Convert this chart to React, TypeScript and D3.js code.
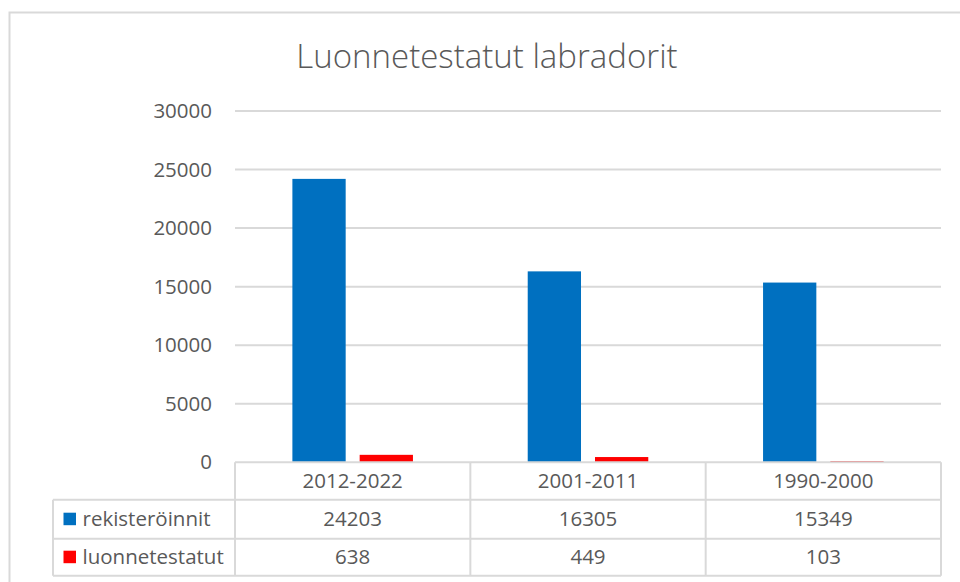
import React from "react";
import * as d3 from "d3";

const categories = ["2012-2022", "2001-2011", "1990-2000"];
const seriesNames = ["rekisteröinnit", "luonnetestatut"];
const rekisteroinnit = [24203, 16305, 15349];
const luonnetestatut = [638, 449, 103];
const seriesColors = ["#0070C0", "#FF0000"];
const yTicks = [0, 5000, 10000, 15000, 20000, 25000, 30000];
const title = "Luonnetestatut labradorit";

export default function App() {
  const W = 960, H = 582;
  const plotLeft = 235, plotRight = 941, plotTop = 111, plotBottom = 462.3;
  const tableLeft = 53;
  const rowLines = [462.3, 499.7, 538.7, 575.7];
  const font = "'Open Sans', 'Segoe UI', sans-serif";
  const textColor = "#595959";
  const gridColor = "#D9D9D9";

  const y = d3.scaleLinear().domain([0, 30000]).range([plotBottom, plotTop]);
  const x = d3.scaleBand<string>().domain(categories).range([plotLeft, plotRight]).paddingInner(0).paddingOuter(0);
  const xs = d3.scaleBand<string>().domain(seriesNames).range([0, x.bandwidth()]).paddingInner(0.208).paddingOuter(0.853);
  const seriesValues = [rekisteroinnit, luonnetestatut];

  const colEdges = [...categories.map((c) => x(c)!), plotRight];

  return (
    <svg width={W} height={H} style={{ position: "absolute", left: 0, top: 0, background: "#fff" }}>
      <rect x={0} y={0} width={W} height={H} fill="#fff" />
      <rect x={9.5} y={12.5} width={1000} height={1000} fill="none" stroke={gridColor} strokeWidth={2} />
      <text x={487} y={67.5} textAnchor="middle" fontFamily={font} fontWeight={300} fontSize={33} fill={textColor}>
        {title}
      </text>
      {yTicks.map((t) => (
        <g key={t}>
          {t > 0 && (
            <line x1={plotLeft} x2={plotRight} y1={y(t)} y2={y(t)} stroke={gridColor} strokeWidth={2} />
          )}
          <text x={212} y={y(t)} dy="0.35em" textAnchor="end" fontFamily={font} fontSize={20.5} fill={textColor}>
            {t}
          </text>
        </g>
      ))}
      {seriesNames.map((s, si) =>
        categories.map((c, ci) => {
          const v = seriesValues[si][ci];
          return (
            <rect
              key={s + c}
              x={x(c)! + xs(s)!}
              y={y(v)}
              width={xs.bandwidth()}
              height={y(0) - y(v)}
              fill={seriesColors[si]}
            />
          );
        })
      )}
      {/* data table */}
      <g stroke={gridColor} strokeWidth={2}>
        <line x1={plotLeft} x2={plotRight} y1={rowLines[0]} y2={rowLines[0]} />
        {rowLines.slice(1).map((ry) => (
          <line key={ry} x1={tableLeft} x2={plotRight} y1={ry} y2={ry} />
        ))}
        {colEdges.map((cx) => (
          <line key={cx} x1={cx} x2={cx} y1={rowLines[0]} y2={rowLines[3]} />
        ))}
        <line x1={tableLeft} x2={tableLeft} y1={rowLines[1]} y2={rowLines[3]} />
      </g>
      {categories.map((c) => (
        <text
          key={c}
          x={x(c)! + x.bandwidth() / 2}
          y={(rowLines[0] + rowLines[1]) / 2}
          dy="0.35em"
          textAnchor="middle"
          fontFamily={font}
          fontSize={20.5}
          fill={textColor}
        >
          {c}
        </text>
      ))}
      {seriesNames.map((s, si) => {
        const cy = (rowLines[si + 1] + rowLines[si + 2]) / 2;
        return (
          <g key={s}>
            <rect x={63.5} y={cy - 6.5} width={12.5} height={12.5} fill={seriesColors[si]} />
            <text x={82.5} y={cy} dy="0.35em" fontFamily={font} fontSize={20.5} fill={textColor}>
              {s}
            </text>
            {categories.map((c, ci) => (
              <text
                key={c}
                x={x(c)! + x.bandwidth() / 2}
                y={cy}
                dy="0.35em"
                textAnchor="middle"
                fontFamily={font}
                fontSize={20.5}
                fill={textColor}
              >
                {seriesValues[si][ci]}
              </text>
            ))}
          </g>
        );
      })}
    </svg>
  );
}
